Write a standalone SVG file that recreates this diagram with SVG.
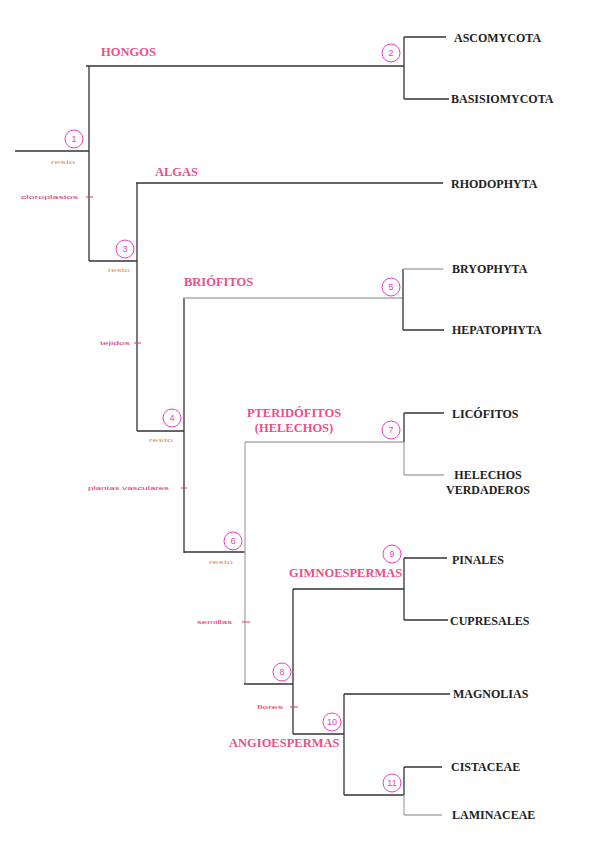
<svg xmlns="http://www.w3.org/2000/svg" width="601" height="848" viewBox="0 0 601 848">
<style>
.d{stroke:#333;stroke-width:1.3;fill:none}
.g{stroke:#aaa;stroke-width:1.3;fill:none}
.t{stroke:#d83a6e;stroke-width:1;fill:none}
.tx{font-family:"Liberation Serif",serif;font-weight:bold;font-size:12px;fill:#222}
.gr{font-family:"Liberation Serif",serif;font-weight:bold;font-size:12.5px;fill:#e9508a}
.c{fill:none;stroke:#e840c8;stroke-width:1}
.n{font-family:"Liberation Sans",sans-serif;font-size:9px;fill:#e840c8;text-anchor:middle}
.r{font-family:"Liberation Sans",sans-serif;font-size:6px;fill:#f08a44}
.s{font-family:"Liberation Sans",sans-serif;font-size:6px;fill:#d8306a}
</style>
<rect width="601" height="848" fill="#fff"/>
<g id="connectors">
<path class="d" d="M15 151H89M89 66V261M86 66H404M404 37V99M404 37H446M404 99H449"/>
<path class="d" d="M89 261H137M137 183V431M136 183H443"/>
<path class="d" d="M137 431H184M184 298V553"/>
<path class="g" d="M183 298H403"/>
<path class="d" d="M403 269V330"/>
<path class="g" d="M403 269H443"/>
<path class="d" d="M403 330H444"/>
<path class="d" d="M184 552H245"/>
<path class="g" d="M245 442V684M245 442H404M404 442V475M404 475H444"/>
<path class="d" d="M404 413V442M404 413H444"/>
<path class="d" d="M244 684H293M293 589V734M293 589H404M404 558V620M404 558H447M404 620H448"/>
<path class="d" d="M293 734H344M344 694V795M344 694H450M344 795H404M404 767V795M404 767H442"/>
<path class="g" d="M404 795V815M404 815H442"/>
<path class="t" d="M86 197H93M134 343H141M181 488H187M242 622H250M290 707H298"/>
</g>
<g id="labels">
<text class="gr" x="101" y="56">HONGOS</text>
<text class="gr" x="155" y="176">ALGAS</text>
<text class="gr" x="184" y="286">BRIÓFITOS</text>
<text class="gr" x="294" y="417" text-anchor="middle">PTERIDÓFITOS</text>
<text class="gr" x="294" y="432" text-anchor="middle">(HELECHOS)</text>
<text class="gr" x="289" y="577">GIMNOESPERMAS</text>
<text class="gr" x="229" y="747">ANGIOESPERMAS</text>
</g>
<g id="leaf-ascomycota"><text class="tx" x="454" y="42">ASCOMYCOTA</text></g>
<g id="leaf-basisiomycota"><text class="tx" x="451" y="103">BASISIOMYCOTA</text></g>
<g id="leaf-rhodophyta"><text class="tx" x="451" y="188">RHODOPHYTA</text></g>
<g id="leaf-bryophyta"><text class="tx" x="452" y="273">BRYOPHYTA</text></g>
<g id="leaf-hepatophyta"><text class="tx" x="452" y="334">HEPATOPHYTA</text></g>
<g id="leaf-licofitos"><text class="tx" x="452" y="418">LICÓFITOS</text></g>
<g id="leaf-helechos"><text class="tx" x="488" y="479" text-anchor="middle">HELECHOS</text><text class="tx" x="488" y="494" text-anchor="middle">VERDADEROS</text></g>
<g id="leaf-pinales"><text class="tx" x="452" y="564">PINALES</text></g>
<g id="leaf-cupresales"><text class="tx" x="450" y="625">CUPRESALES</text></g>
<g id="leaf-magnolias"><text class="tx" x="453" y="698">MAGNOLIAS</text></g>
<g id="leaf-cistaceae"><text class="tx" x="451" y="771">CISTACEAE</text></g>
<g id="leaf-laminaceae"><text class="tx" x="452" y="819">LAMINACEAE</text></g>
<g id="node1"><circle class="c" cx="74" cy="139" r="9"/><text class="n" x="74" y="142">1</text></g>
<g id="node2"><circle class="c" cx="391" cy="53" r="9"/><text class="n" x="391" y="56">2</text></g>
<g id="node3"><circle class="c" cx="125" cy="249" r="9"/><text class="n" x="125" y="252">3</text></g>
<g id="node4"><circle class="c" cx="172" cy="418" r="9"/><text class="n" x="172" y="421">4</text></g>
<g id="node5"><circle class="c" cx="391" cy="287" r="9"/><text class="n" x="391" y="290">5</text></g>
<g id="node6"><circle class="c" cx="233" cy="541" r="9"/><text class="n" x="233" y="544">6</text></g>
<g id="node7"><circle class="c" cx="391" cy="430" r="9"/><text class="n" x="391" y="433">7</text></g>
<g id="node8"><circle class="c" cx="282" cy="672" r="9"/><text class="n" x="282" y="675">8</text></g>
<g id="node9"><circle class="c" cx="392" cy="554" r="9"/><text class="n" x="392" y="557">9</text></g>
<g id="node10"><circle class="c" cx="332" cy="722" r="9"/><text class="n" x="332" y="725">10</text></g>
<g id="node11"><circle class="c" cx="392" cy="783" r="9"/><text class="n" x="392" y="786">11</text></g>
<g id="characters">
<text class="r" x="51" y="164" textLength="24" lengthAdjust="spacingAndGlyphs">resto</text>
<text class="s" x="21" y="199" textLength="57" lengthAdjust="spacingAndGlyphs">cloroplastos</text>
<text class="r" x="108" y="272" textLength="22" lengthAdjust="spacingAndGlyphs">resto</text>
<text class="s" x="100" y="345" textLength="30" lengthAdjust="spacingAndGlyphs">tejidos</text>
<text class="r" x="149" y="442" textLength="24" lengthAdjust="spacingAndGlyphs">resto</text>
<text class="s" x="88" y="490" textLength="81" lengthAdjust="spacingAndGlyphs">plantas vasculares</text>
<text class="r" x="209" y="564" textLength="24" lengthAdjust="spacingAndGlyphs">resto</text>
<text class="s" x="197" y="624" textLength="35" lengthAdjust="spacingAndGlyphs">semillas</text>
<text class="s" x="257" y="709" textLength="26" lengthAdjust="spacingAndGlyphs">flores</text>
</g>
</svg>
